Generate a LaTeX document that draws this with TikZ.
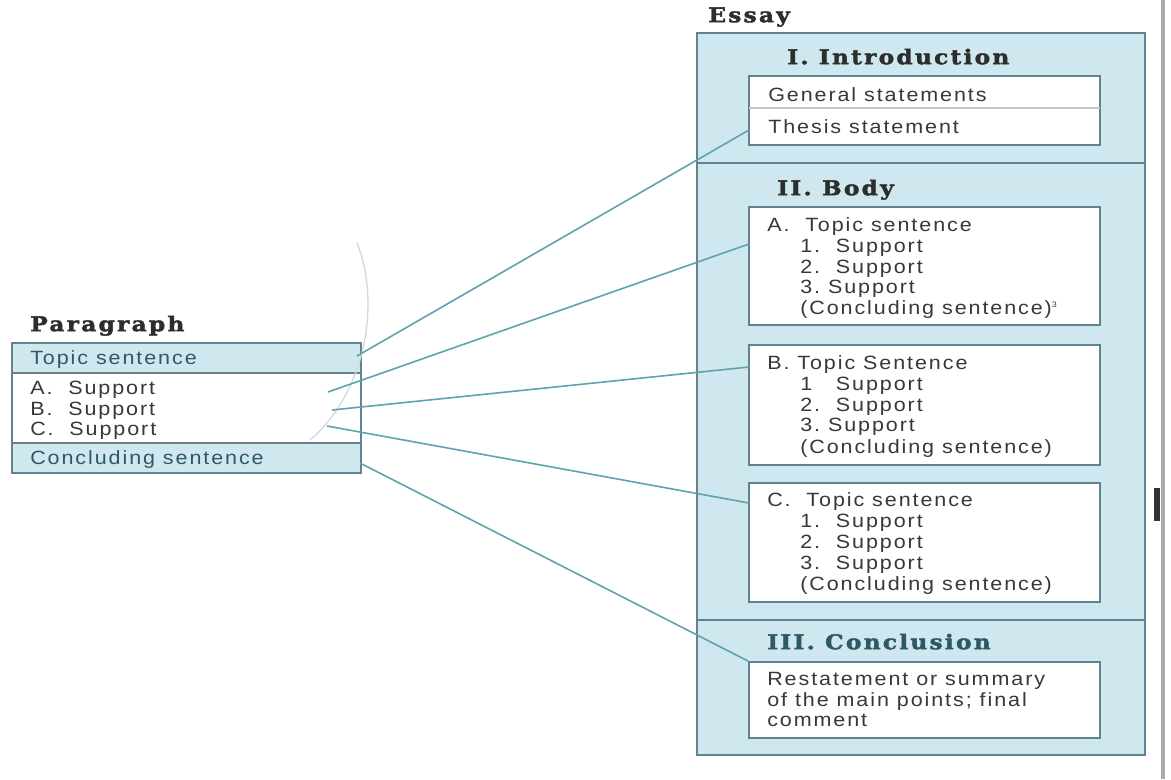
\documentclass[tikz,border=0pt]{standalone}
\usepackage{fontspec}
\setmainfont{Liberation Sans}[FakeStretch=1.12,LetterSpace=10]
\newfontfamily\ttlfont{DejaVu Serif}[FakeStretch=1.15,LetterSpace=11,BoldFeatures={FakeBold=2}]
\usetikzlibrary{fit}
\definecolor{pale}{HTML}{CFE8EF}
\definecolor{edge}{HTML}{5F8490}
\definecolor{conn}{HTML}{5FA3AE}
\definecolor{ink}{HTML}{383838}
\definecolor{inkb}{HTML}{2E5865}
\definecolor{faint}{HTML}{D3DADC}
\begin{document}
\begin{tikzpicture}[x=0.75pt,y=-0.75pt,
  frame/.style={draw=edge,line width=1.5pt,inner sep=0pt},
  bluebox/.style={frame,fill=pale},
  whitebox/.style={frame,fill=white},
  txt/.style={inner sep=0pt,anchor=mid west,yshift=-2pt,text=ink,font=\fontsize{14.4}{16}\selectfont},
  txtb/.style={txt,text=inkb},
  ttl/.style={inner sep=0pt,anchor=mid west,yshift=-2pt,text=ink!80!black,font=\ttlfont\bfseries\fontsize{15.2}{17}\selectfont},
  conline/.style={draw=conn,line width=1.2pt},
  divider/.style={draw=edge,line width=1.5pt}]
\useasboundingbox (0,0) rectangle (1171,779);
\fill[white] (0,0) rectangle (1171,779);
% page edge
\draw[gray!65,line width=2.5pt] (1163,0) -- (1163,779);
\fill[gray!40!black] (1154,488) rectangle (1160,521);
% ---------- Paragraph ----------
\node[ttl] (ptitle) at (30,325) {Paragraph};
\node[whitebox,fit={(12,343)(361,473)}] (para) {};
\node[bluebox,fit={(12,343)(361,373)}] (prow1) {};
\node[bluebox,fit={(12,443)(361,473)}] (prow3) {};
\node[txtb] (pts) at (30,358) {Topic sentence};
\node[txt] (pa) at (30,388) {A.\ \ Support};
\node[txt] (pb) at (30,409) {B.\ \ Support};
\node[txt] (pc) at (30,429) {C.\ \ Support};
\node[txtb] (pcs) at (30,458) {Concluding sentence};
% faint arc
\draw[faint,line width=1pt] (357,243) .. controls (380,300) and (368,390) .. (310,440);
% ---------- Essay ----------
\node[ttl] (etitle) at (708,16) {Essay};
\node[bluebox,fit={(697,33)(1145,755)}] (essay) {};
\coordinate (d1l) at (697,163); \coordinate (d1r) at (1145,163);
\coordinate (d2l) at (697,620); \coordinate (d2r) at (1145,620);
\draw[divider] (d1l) -- (d1r);
\draw[divider] (d2l) -- (d2r);
% Introduction
\node[ttl] (ititle) at (787,58) {I. Introduction};
\node[whitebox,fit={(749,76)(1100,145)}] (intro) {};
\coordinate (il) at (749,108); \coordinate (ir) at (1100,108);
\draw[gray!45,line width=0.8pt] (il) -- (ir);
\node[txt] (gs) at (768,95) {General statements};
\node[txt] (ts) at (768,127) {Thesis statement};
% Body
\node[ttl] (btitle) at (777,189) {II. Body};
\node[whitebox,fit={(749,207)(1100,325)}] (boxA) {};
\node[txt] (a0) at (767,225) {A.\ \ Topic sentence};
\node[txt] (a1) at (800,246) {1.\ \ Support};
\node[txt] (a2) at (800,267) {2.\ \ Support};
\node[txt] (a3) at (800,287) {3.\ Support};
\node[txt] (a4) at (800,308) {(Concluding sentence)\textsuperscript{\fontsize{6}{6}\selectfont 3}};
\node[whitebox,fit={(749,345)(1100,465)}] (boxB) {};
\node[txt] (b0) at (767,363) {B.\ Topic Sentence};
\node[txt] (b1) at (800,384) {1\ \ \ Support};
\node[txt] (b2) at (800,405) {2.\ \ Support};
\node[txt] (b3) at (800,425) {3.\ Support};
\node[txt] (b4) at (800,447) {(Concluding sentence)};
\node[whitebox,fit={(749,483)(1100,602)}] (boxC) {};
\node[txt] (c0) at (767,500) {C.\ \ Topic sentence};
\node[txt] (c1) at (800,521) {1.\ \ Support};
\node[txt] (c2) at (800,542) {2.\ \ Support};
\node[txt] (c3) at (800,563) {3.\ \ Support};
\node[txt] (c4) at (800,584) {(Concluding sentence)};
% Conclusion
\node[ttl,text=inkb] (ctitle) at (767,643) {III. Conclusion};
\node[whitebox,fit={(749,662)(1100,738)}] (concl) {};
\node[txt] (r0) at (767,679) {Restatement or summary};
\node[txt] (r1) at (767,700) {of the main points; final};
\node[txt] (r2) at (767,720) {comment};
% ---------- connectors ----------
\coordinate (sT) at (357,356);
\coordinate (sA) at (328,392);
\coordinate (sB) at (332,410);
\coordinate (sC) at (327,426);
\coordinate (sS) at (360,463);
\coordinate (eT) at (749,130);
\coordinate (eA) at (749,244);
\coordinate (eB) at (749,367);
\coordinate (eC) at (749,503);
\draw[conline] (sT) -- (eT);
\draw[conline] (sA) -- (eA);
\draw[conline] (sB) -- (eB);
\draw[conline] (sC) -- (eC);
\draw[conline] (sS) -- (concl.north west);
\end{tikzpicture}
\end{document}
